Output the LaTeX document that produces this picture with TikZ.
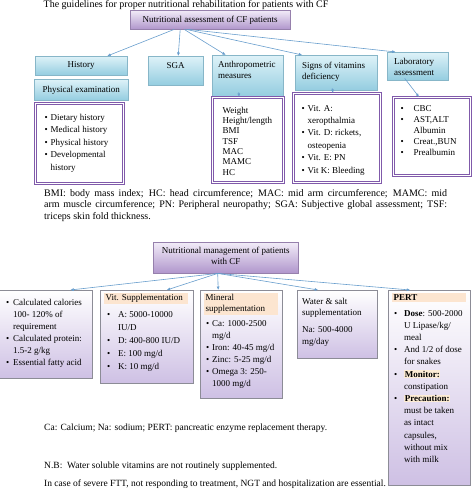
\documentclass[tikz,border=0pt]{standalone}
\usepackage{fontspec}
\setmainfont{Liberation Serif}
\usetikzlibrary{arrows.meta, shadows}

% colours
\definecolor{cyantop}{RGB}{222,242,248}
\definecolor{cyanbot}{RGB}{148,205,224}
\definecolor{cyanline}{RGB}{135,182,200}
\definecolor{lavtop}{RGB}{242,236,248}
\definecolor{lavbot}{RGB}{176,150,204}
\definecolor{lavline}{RGB}{150,128,172}
\definecolor{listpurple}{RGB}{128,90,170}
\definecolor{mgtbot}{RGB}{206,192,228}
\definecolor{mgtline}{RGB}{140,140,150}
\definecolor{peach}{RGB}{252,229,208}
\definecolor{lightpeach}{RGB}{253,236,212}
\definecolor{arrowblue}{RGB}{105,158,205}

% box text: outer width, outer height (pt), content
\newcommand\boxtxt[3]{\parbox[t][\dimexpr#2pt-6pt\relax][t]{\dimexpr#1pt-8pt\relax}{#3}}
% bullet with hanging indent
\newcommand\bitem[2][7pt]{\par\hangindent=#1\hangafter=1\noindent\makebox[#1][l]{\textbullet}#2}
% highlighted words
\newcommand\hl[1]{{\setlength\fboxsep{0.6pt}\colorbox{lightpeach}{#1}}}
\newcommand\headhl[2]{{\setlength\fboxsep{1.5pt}\colorbox{peach}{\parbox{#1pt}{\raggedright #2}}}}

\tikzset{
  basebox/.style={anchor=north west, inner xsep=4pt, inner ysep=3pt,
    font=\fontsize{9}{11}\selectfont},
  cyanbox/.style={basebox, draw=cyanline, line width=0.4pt, top color=cyantop, bottom color=cyanbot,
    drop shadow={shadow xshift=1.2pt, shadow yshift=-1.2pt, opacity=0.3}},
  headbox/.style={basebox, draw=lavline, line width=0.4pt, top color=lavtop, bottom color=lavbot,
    drop shadow={shadow xshift=1.2pt, shadow yshift=-1.2pt, opacity=0.3}},
  listbox/.style={basebox, draw=listpurple, line width=1.1pt, double=white, double distance=0.8pt},
  mgtbox/.style={basebox, draw=mgtline, line width=0.4pt, top color=white, bottom color=mgtbot,
    drop shadow={shadow xshift=1.2pt, shadow yshift=-1.2pt, opacity=0.3}},
  plaintxt/.style={inner sep=0pt, font=\fontsize{9.5}{11.5}\selectfont},
  arr/.style={draw=arrowblue, line width=0.6pt, -{Latex[length=3.5pt, width=3pt]}},
}

\begin{document}
\begin{tikzpicture}[x=1pt, y=-1pt]
  \useasboundingbox (0,0) rectangle (474,490);

  % Title
  \node[plaintxt, anchor=base, font=\fontsize{10}{12}\selectfont] (title) at (186,7.5)
    {The guidelines for proper nutritional rehabilitation for patients with CF};

  % Assessment boxes
  \node[headbox] (assess) at (130,10)
    {\boxtxt{160}{19}{\vspace*{2.5pt}\centering Nutritional assessment of CF patients}};
  \node[cyanbox] (hist) at (35,56) {\boxtxt{92}{19}{\vspace*{2.7pt}\centering History}};
  \node[cyanbox] (phys) at (34,79) {\boxtxt{94}{21}{\vspace*{3.7pt}\centering Physical examination}};
  \node[cyanbox] (sga) at (148,56) {\boxtxt{55}{29}{\vspace*{3pt}\centering SGA}};
  \node[cyanbox] (anth) at (212,55)
    {\boxtxt{71}{41}{\vspace*{3pt}\raggedright\leftskip=2pt\baselineskip=10.7pt Anthropometric\\ measures}};
  \node[cyanbox] (signs) at (295,55)
    {\boxtxt{82}{35}{\vspace*{3.7pt}\raggedright\leftskip=3pt Signs of vitamins\\ deficiency}};
  \node[cyanbox] (lab) at (387,52)
    {\boxtxt{61}{28}{\vspace*{2.7pt}\raggedright\leftskip=3pt Laboratory\\ assessment}};

  % Lists under the boxes
  \node[listbox] (histl) at (35,103)
    {\boxtxt{88}{80}{\vspace*{7.5pt}\raggedright\leftskip=5pt\baselineskip=12.5pt
      \bitem[6pt]{Dietary history}
      \bitem[6pt]{Medical history}
      \bitem[6pt]{Physical history}
      \bitem[6pt]{Developmental\newline history}\par}};
  \node[listbox] (anthl) at (212,97)
    {\boxtxt{71}{85}{\vspace*{6.5pt}\raggedright\leftskip=6pt\baselineskip=10.3pt
      Weight\\ Height/length\\ BMI\\ TSF\\ MAC\\ MAMC\\ HC}};
  \node[listbox] (vitl) at (293,93)
    {\boxtxt{87}{89}{\vspace*{8.5pt}\raggedright\leftskip=4pt\baselineskip=12.4pt
      \bitem[6pt]{Vit. A:\newline xeropthalmia}
      \bitem[6pt]{Vit. D: rickets,\newline osteopenia}
      \bitem[6pt]{Vit. E: PN}
      \bitem[6pt]{Vit K: Bleeding}\par}};
  \node[listbox] (labl) at (393,97)
    {\boxtxt{77}{78}{\vspace*{4.5pt}\raggedright\leftskip=3pt\baselineskip=11.2pt
      \bitem[13pt]{CBC}
      \bitem[13pt]{AST,ALT\newline Albumin}
      \bitem[13pt]{Creat.,BUN}
      \bitem[13pt]{Prealbumin}\par}};

  % Assessment arrows
  \draw[arr] ([xshift=-36]assess.south) -- ([xshift=26]hist.north);
  \draw[arr] ([xshift=-30]assess.south) -- ([xshift=2.5]sga.north);
  \draw[arr] ([xshift=-26]assess.south) -- ([xshift=-22]anth.north);
  \draw[arr] ([xshift=-24]assess.south) -- ([xshift=-34]signs.north);
  \draw[arr] ([xshift=-22]assess.south) -- ([xshift=-22]lab.north);
  \draw[arr] ([xshift=-9,yshift=4]anth.south) -- ([xshift=-9]anthl.north);
  \draw[arr] ([xshift=-4,yshift=2]signs.south) -- ([xshift=-4]vitl.north);
  \draw[arr] ([xshift=-13,yshift=2]lab.south) -- ([xshift=-13]labl.north);

  % Abbreviations
  \node[plaintxt, anchor=north west, text width=403pt, align=justify,
        font=\fontsize{10}{11.5}\selectfont] (abbr1) at (44,189)
    {BMI: body mass index; HC: head circumference; MAC: mid arm circumference; MAMC: mid\linebreak
     arm muscle circumference; PN: Peripheral neuropathy; SGA: Subjective global assessment; TSF:\linebreak
     triceps skin fold thickness.};

  % Management boxes
  \node[headbox] (manage) at (153,242)
    {\boxtxt{145}{31}{\vspace*{1.5pt}\centering Nutritional management of patients\\ with CF}};
  \node[mgtbox] (calor) at (-4,290)
    {\boxtxt{96}{88}{\vspace*{6.5pt}\raggedright\leftskip=6pt\baselineskip=12pt
      \bitem[7pt]{Calculated calories\newline 100- 120\% of\newline requirement}
      \bitem[7pt]{Calculated protein:\newline 1.5-2 g/kg}
      \bitem[7pt]{Essential fatty acid}\par}};
  \node[mgtbox] (vitam) at (100,290)
    {\boxtxt{93}{93}{\raggedright\baselineskip=13pt
      \noindent\headhl{81}{Vit. Supplementation}\par\vspace{3pt}
      \leftskip=3pt
      \bitem[11pt]{A: 5000-10000\newline IU/D}
      \bitem[11pt]{D: 400-800 IU/D}
      \bitem[11pt]{E: 100 mg/d}
      \bitem[11pt]{K: 10 mg/d}\par}};
  \node[mgtbox] (miner) at (200,290)
    {\boxtxt{82}{108}{\raggedright\baselineskip=11pt
      \noindent\headhl{71}{Mineral\\ supplementation}\par\vspace{4pt}
      \leftskip=2pt\baselineskip=12pt
      \bitem[6pt]{Ca: 1000-2500\newline mg/d}
      \bitem[6pt]{Iron: 40-45 mg/d}
      \bitem[6pt]{Zinc: 5-25 mg/d}
      \bitem[6pt]{Omega 3: 250-\newline 1000 mg/d}\par}};
  \node[mgtbox] (water) at (297,290)
    {\boxtxt{80}{68}{\vspace*{5.5pt}\raggedright\leftskip=1pt\baselineskip=10.5pt
      Water \& salt\\ supplementation\par\vspace{5pt}
      \baselineskip=12pt Na: 500-4000\\ mg/day}};
  \node[mgtbox] (pert) at (388,290)
    {\boxtxt{82}{195}{\raggedright\baselineskip=12.2pt
      \noindent\headhl{71}{\textbf{PERT}}\par\vspace{4pt}
      \leftskip=2pt
      \bitem[10pt]{\textbf{Dose}: 500-2000\newline U Lipase/kg/\newline meal}
      \bitem[10pt]{And 1/2 of dose\newline for snakes}
      \bitem[10pt]{\hl{\textbf{Monitor:}}\newline constipation}
      \bitem[10pt]{\hl{\textbf{Precaution:}}\newline must be taken\newline as intact\newline capsules,\newline without mix\newline with milk}\par}};

  % Management arrows
  \draw[arr] ([xshift=-8]manage.south) -- ([xshift=26]calor.north);
  \draw[arr] ([xshift=-8]manage.south) -- ([xshift=20]vitam.north);
  \draw[arr] ([xshift=-8]manage.south) -- ([xshift=-23]miner.north);
  \draw[arr] ([xshift=-8]manage.south) -- ([xshift=-19]water.north);
  \draw[arr] ([xshift=-8]manage.south) -- ([xshift=-19]pert.north);

  % Notes
  \node[plaintxt, anchor=base west] (note1) at (44,430)
    {Ca: Calcium; Na: sodium; PERT: pancreatic enzyme replacement therapy.};
  \node[plaintxt, anchor=base west] (note2) at (44,468)
    {N.B:\ \ Water soluble vitamins are not routinely supplemented.};
  \node[plaintxt, anchor=base west] (note3) at (44,486)
    {In case of severe FTT, not responding to treatment, NGT and hospitalization are essential.};
\end{tikzpicture}
\end{document}
